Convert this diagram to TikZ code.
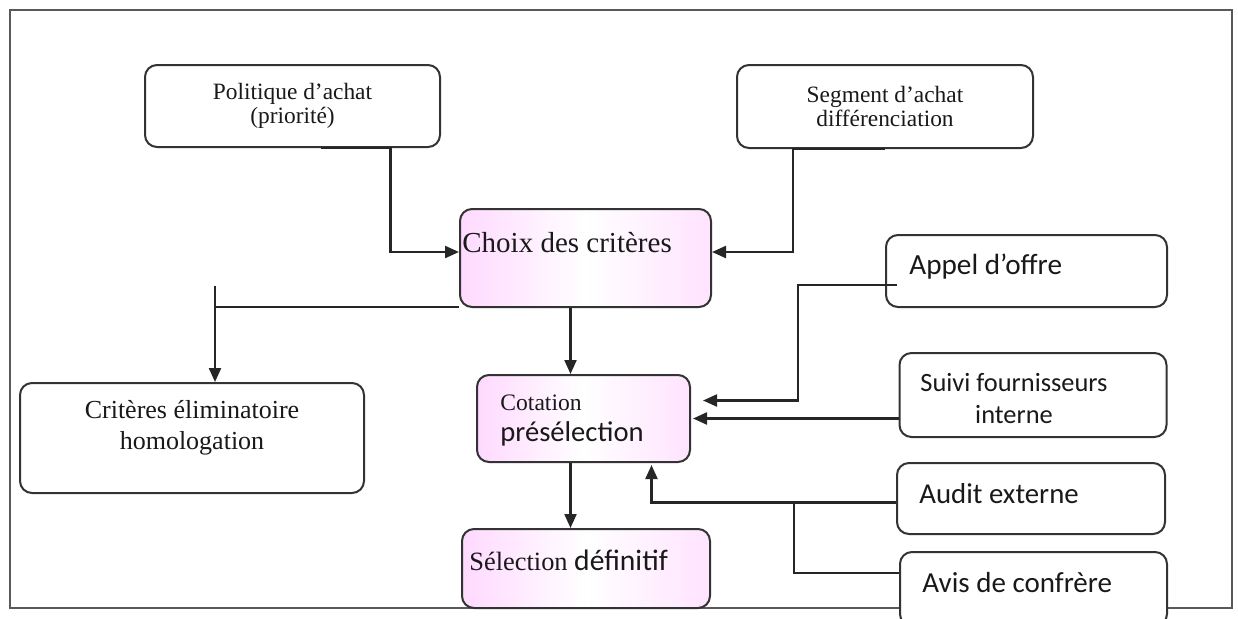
\documentclass[tikz,border=0pt]{standalone}
\usepackage{fontspec}
\setmainfont{Liberation Serif}
\newfontfamily\calib{Carlito}
\usetikzlibrary{arrows.meta,calc}
\begin{document}
\begin{tikzpicture}[x=0.5pt,y=-0.5pt,
  box/.style={draw=black!80,line width=1pt,rounded corners=6pt,fill=white,inner sep=0pt},
  pinkbox/.style={box,left color=magenta!15,right color=magenta!11,middle color=white},
  txt/.style={inner sep=0pt,text=black!90},
  flow/.style={draw=black!85,line width=1.1pt,-{Triangle[length=7pt,width=6pt]}},
  link/.style={draw=black!85,line width=1.1pt}]
  \useasboundingbox (0,0) rectangle (1238,618);
  \draw[black!65,line width=1.2pt] (10,10) rectangle (1232,608);
  % boxes
  \node[box,minimum width=147.5pt,minimum height=41pt] (pol) at (292.5,106) {};
  \node[box,minimum width=148pt,minimum height=41.5pt] (seg) at (885,106.5) {};
  \node[pinkbox,minimum width=125.5pt,minimum height=49pt] (choix) at (585.5,258) {};
  \node[box,minimum width=172pt,minimum height=55pt] (crit) at (192,438) {};
  \node[pinkbox,minimum width=106.5pt,minimum height=43.5pt] (cot) at (583.5,418.5) {};
  \node[pinkbox,minimum width=124pt,minimum height=39.5pt] (sel) at (586,568.5) {};
  \node[box,minimum width=140.5pt,minimum height=36pt] (appel) at (1026.5,271) {};
  \node[box,minimum width=133.5pt,minimum height=42pt] (suivi) at (1033,395) {};
  \node[box,minimum width=134pt,minimum height=35.5pt] (audit) at (1031,498.5) {};
  \node[box,minimum width=133.5pt,minimum height=37pt] (avis) at (1033.5,589) {};
  % texts
  \node[txt,align=center,font=\fontsize{11.7}{12.3}\selectfont] (poltxt) at ($(pol)+(0,0)$) {Politique d’achat\\(priorité)};
  \node[txt,align=center,font=\fontsize{11.7}{12.3}\selectfont] (segtxt) at ($(seg)+(0,0)$) {Segment d’achat\\différenciation};
  \node[txt,anchor=west,font=\fontsize{14.5}{16}\selectfont] (choixtxt) at ($(choix.west)+(3,-15)$) {Choix des critères};
  \node[txt,align=center,font=\fontsize{13}{15.5}\selectfont] (crittxt) at ($(crit)+(0,-10)$) {Critères éliminatoire\\homologation};
  \node[txt,anchor=west,font=\fontsize{11.8}{13}\selectfont] (cottxt) at ($(cot.west)+(24,-16)$) {Cotation};
  \node[txt,anchor=west,font=\calib\fontsize{14.3}{16}\selectfont] (preseltxt) at ($(cot.west)+(24,15)$) {présélection};
  \node[txt,anchor=west,font=\fontsize{13.2}{15}\selectfont] (seltxt) at ($(sel.west)+(8,-8)$) {Sélection {\calib\fontsize{14.8}{16}\selectfont définitif}};
  \node[txt,anchor=west,font=\calib\fontsize{14.6}{16}\selectfont] (appeltxt) at ($(appel.west)+(24,-4)$) {Appel d’offre};
  \node[txt,align=center,font=\calib\fontsize{13.2}{16}\selectfont] (suivitxt) at ($(suivi)+(-19,4)$) {Suivi fournisseurs\\interne};
  \node[txt,anchor=west,font=\calib\fontsize{14.4}{16}\selectfont] (audittxt) at ($(audit.west)+(23,-5)$) {Audit externe};
  \node[txt,anchor=west,font=\calib\fontsize{14.5}{16}\selectfont] (avistxt) at ($(avis.west)+(23,-6)$) {Avis de confrère};
  % connectors
  \draw[flow] ($(pol.south)+(28,0)$) -- ++(70,0) |- ($(choix.west)+(0,-6)$);
  \draw[flow] (seg.south) -- ++(-92,0) |- ($(choix.east)+(0,-6)$);
  \draw[flow] ($(choix.south)+(-15,0)$) coordinate (stem) -- (stem |- cot.north);
  \draw[flow] (stem |- cot.south) -- (stem |- sel.north);
  \draw[link] ($(choix.south west)+(0,-1)$) -- ++(-244,0) coordinate (split);
  \draw[flow] ($(split)+(0,-21)$) -- (split |- crit.north);
  \draw[flow] ($(appel.west)+(12,14)$) -| ($(cot.east)+(107,-18)$) -- ++(-95,0);
  \draw[flow] (cot.east -| suivi.west) -- ($(cot.east)+(2,0)$);
  \draw[flow] ($(audit.west)+(0,4)$) -- ++(-102,0) coordinate (join) -| ($(cot.south)+(68,2)$);
  \draw[link] ($(avis.west)+(0,-16)$) -| (join);
\end{tikzpicture}
\end{document}
